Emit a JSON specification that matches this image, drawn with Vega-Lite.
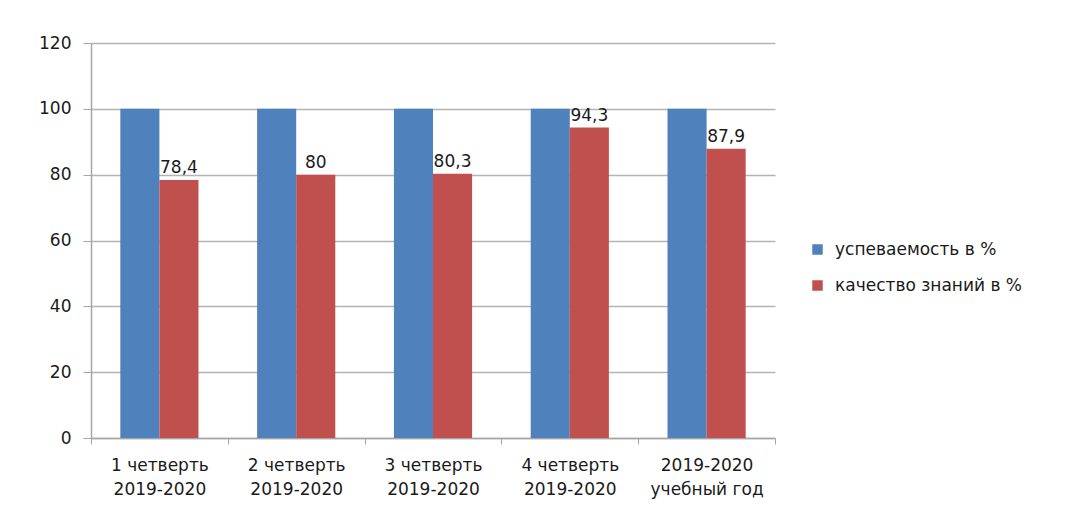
{
  "$schema": "https://vega.github.io/schema/vega-lite/v6.json",
  "width": 684,
  "height": 395,
  "autosize": {"type": "none"},
  "padding": {"left": 91, "top": 43, "right": 298, "bottom": 74},
  "background": "white",
  "config": {"font": "DejaVu Sans", "view": {"stroke": null}},
  "data": {
    "values": [
      {"period": "1 четверть|2019-2020", "series": "успеваемость в %", "value": 100, "label": null},
      {"period": "1 четверть|2019-2020", "series": "качество знаний в %", "value": 78.4, "label": "78,4"},
      {"period": "2 четверть|2019-2020", "series": "успеваемость в %", "value": 100, "label": null},
      {"period": "2 четверть|2019-2020", "series": "качество знаний в %", "value": 80, "label": "80"},
      {"period": "3 четверть|2019-2020", "series": "успеваемость в %", "value": 100, "label": null},
      {"period": "3 четверть|2019-2020", "series": "качество знаний в %", "value": 80.3, "label": "80,3"},
      {"period": "4 четверть|2019-2020", "series": "успеваемость в %", "value": 100, "label": null},
      {"period": "4 четверть|2019-2020", "series": "качество знаний в %", "value": 94.3, "label": "94,3"},
      {"period": "2019-2020|учебный год", "series": "успеваемость в %", "value": 100, "label": null},
      {"period": "2019-2020|учебный год", "series": "качество знаний в %", "value": 87.9, "label": "87,9"}
    ]
  },
  "encoding": {
    "x": {
      "field": "period",
      "type": "nominal",
      "sort": null,
      "scale": {"paddingInner": 0, "paddingOuter": 0},
      "axis": {
        "title": null,
        "labelAngle": 0,
        "labelExpr": "split(datum.label, '|')",
        "labelFontSize": 17,
        "labelColor": "#1a1a1a",
        "labelLineHeight": 24,
        "labelPadding": 13,
        "labelBaseline": "top",
        "tickBand": "extent",
        "tickSize": 6,
        "tickColor": "#a6a6a6",
        "domainColor": "#a6a6a6",
        "domainWidth": 1.5,
        "grid": false
      }
    },
    "xOffset": {
      "field": "series",
      "type": "nominal",
      "sort": ["успеваемость в %", "качество знаний в %"],
      "scale": {"paddingOuter": 0.75, "paddingInner": 0}
    },
    "y": {
      "field": "value",
      "type": "quantitative",
      "scale": {"domain": [0, 120], "nice": false},
      "axis": {
        "title": null,
        "values": [0, 20, 40, 60, 80, 100, 120],
        "labelFontSize": 17,
        "labelColor": "#1a1a1a",
        "labelPadding": 12,
        "tickSize": 8,
        "tickColor": "#a6a6a6",
        "domainColor": "#a6a6a6",
        "domainWidth": 1.5,
        "gridColor": "#b3b3b3",
        "gridWidth": 1.5
      }
    }
  },
  "layer": [
    {
      "mark": {"type": "bar"},
      "encoding": {
        "color": {
          "field": "series",
          "type": "nominal",
          "sort": ["успеваемость в %", "качество знаний в %"],
          "scale": {"domain": ["успеваемость в %", "качество знаний в %"], "range": ["#4f81bd", "#c0504d"]},
          "legend": {
            "title": null,
            "orient": "none",
            "legendX": 718,
            "legendY": 198,
            "symbolType": "square",
            "symbolSize": 110,
            "symbolStrokeWidth": 0,
            "labelFontSize": 17,
            "labelColor": "#1a1a1a",
            "labelOffset": 9,
            "labelLimit": 300,
            "rowPadding": 18
          }
        }
      }
    },
    {
      "transform": [{"filter": "datum.label != null"}],
      "mark": {"type": "text", "baseline": "bottom", "dy": -3, "fontSize": 17, "color": "#1a1a1a"},
      "encoding": {"text": {"field": "label"}}
    }
  ]
}
